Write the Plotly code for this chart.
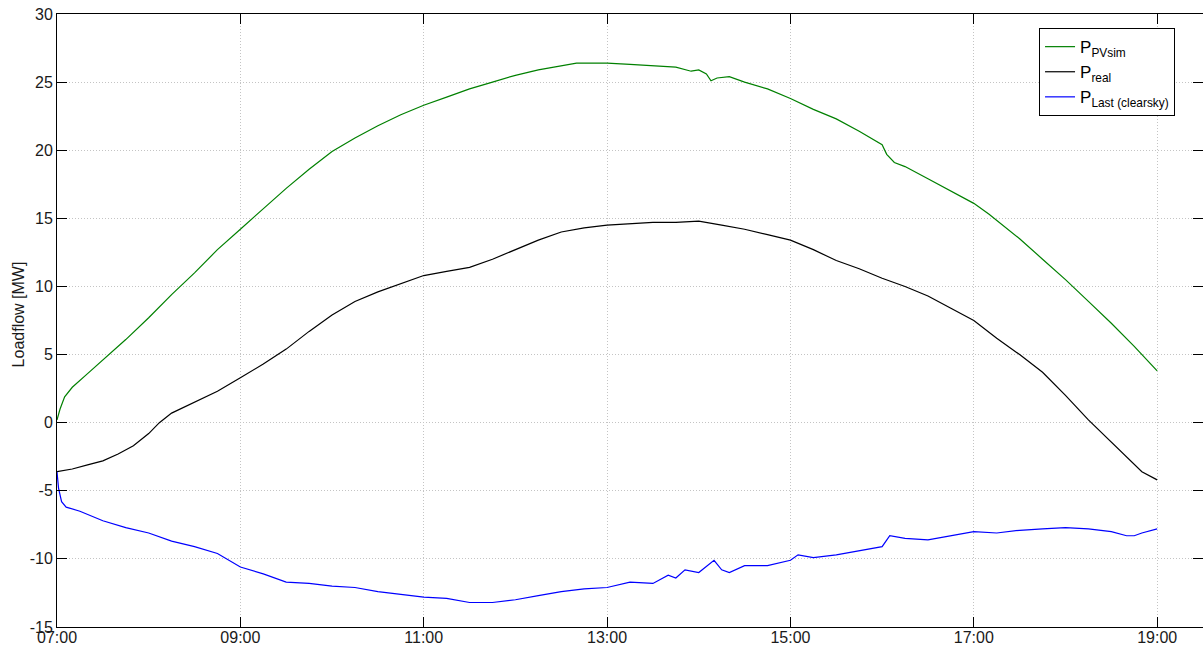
import plotly.graph_objects as go

# ---------------- data ----------------
pv_time = ["07:00", "07:02", "07:05", "07:10", "07:20", "07:30", "07:45", "08:00", "08:15", "08:30",
           "08:45", "09:00", "09:15", "09:30", "09:45", "10:00", "10:15", "10:30", "10:45", "11:00",
           "11:15", "11:30", "11:45", "12:00", "12:15", "12:30", "12:40", "12:50", "13:00", "13:15",
           "13:30", "13:45", "13:55", "14:00", "14:05", "14:08", "14:12", "14:20", "14:30", "14:45",
           "15:00", "15:15", "15:30", "15:45", "16:00", "16:03", "16:08", "16:15", "16:30", "16:45",
           "17:00", "17:10", "17:20", "17:30", "17:45", "18:00", "18:15", "18:30", "18:45", "19:00"]
pv_vals = [0.2, 1.0, 1.9, 2.6, 3.6, 4.6, 6.1, 7.7, 9.4, 11.0,
           12.7, 14.2, 15.7, 17.2, 18.6, 19.9, 20.9, 21.8, 22.6, 23.3,
           23.9, 24.5, 25.0, 25.5, 25.9, 26.2, 26.4, 26.4, 26.4, 26.3,
           26.2, 26.1, 25.8, 25.9, 25.6, 25.1, 25.3, 25.4, 25.0, 24.5,
           23.8, 23.0, 22.3, 21.4, 20.4, 19.7, 19.1, 18.8, 17.9, 17.0,
           16.1, 15.3, 14.4, 13.5, 12.0, 10.5, 8.9, 7.3, 5.6, 3.8]

real_time = ["07:00", "07:10", "07:20", "07:30", "07:40", "07:50", "08:00", "08:07", "08:15", "08:30",
             "08:45", "09:00", "09:15", "09:30", "09:45", "10:00", "10:15", "10:30", "10:45", "11:00",
             "11:15", "11:30", "11:45", "12:00", "12:15", "12:30", "12:45", "13:00", "13:15", "13:30",
             "13:45", "14:00", "14:15", "14:30", "14:45", "15:00", "15:15", "15:30", "15:45", "16:00",
             "16:15", "16:30", "16:45", "17:00", "17:15", "17:30", "17:45", "18:00", "18:15", "18:30",
             "18:45", "18:50", "19:00"]
real_vals = [-3.6, -3.4, -3.1, -2.8, -2.3, -1.7, -0.8, 0.0, 0.7, 1.5,
             2.3, 3.3, 4.3, 5.4, 6.7, 7.9, 8.9, 9.6, 10.2, 10.8,
             11.1, 11.4, 12.0, 12.7, 13.4, 14.0, 14.3, 14.5, 14.6, 14.7,
             14.7, 14.8, 14.5, 14.2, 13.8, 13.4, 12.7, 11.9, 11.3, 10.6,
             10.0, 9.3, 8.4, 7.5, 6.2, 5.0, 3.7, 2.0, 0.2, -1.4,
             -3.0, -3.6, -4.2]

load_time = ["07:00", "07:01", "07:03", "07:06", "07:15", "07:30", "07:45", "08:00", "08:15", "08:30",
             "08:45", "09:00", "09:15", "09:30", "09:45", "10:00", "10:15", "10:30", "10:45", "11:00",
             "11:15", "11:30", "11:45", "12:00", "12:15", "12:30", "12:45", "13:00", "13:15", "13:30",
             "13:40", "13:45", "13:51", "14:00", "14:10", "14:15", "14:20", "14:30", "14:45", "15:00",
             "15:05", "15:15", "15:30", "15:45", "16:00", "16:05", "16:15", "16:30", "16:45", "17:00",
             "17:15", "17:30", "17:45", "18:00", "18:15", "18:30", "18:40", "18:45", "18:50", "19:00"]
load_vals = [-3.6, -4.8, -5.8, -6.2, -6.5, -7.2, -7.7, -8.1, -8.7, -9.1,
             -9.6, -10.6, -11.1, -11.7, -11.8, -12.0, -12.1, -12.4, -12.6, -12.8,
             -12.9, -13.2, -13.2, -13.0, -12.7, -12.4, -12.2, -12.1, -11.7, -11.8,
             -11.2, -11.4, -10.8, -11.0, -10.1, -10.8, -11.0, -10.5, -10.5, -10.1,
             -9.7, -9.9, -9.7, -9.4, -9.1, -8.3, -8.5, -8.6, -8.3, -8.0,
             -8.1, -7.9, -7.8, -7.7, -7.8, -8.0, -8.3, -8.3, -8.1, -7.8]

series_names = ["P<sub>PVsim</sub>", "P<sub>real</sub>", "P<sub>Last (clearsky)</sub>"]
series_colors = ["#008000", "#000000", "#0000ff"]

y_ticks = [-15, -10, -5, 0, 5, 10, 15, 20, 25, 30]
y_ticktext = ["-15", "-10", "-5", "0", "5", "10", "15", "20", "25", "30"]
y_title = "Loadflow [MW]"
day = "2013-06-01 "
x_start, x_end = "07:00", "19:30"


def ts(lst):
    return [day + t for t in lst]


fig = go.Figure()
for t, v, n, c in zip([pv_time, real_time, load_time], [pv_vals, real_vals, load_vals],
                      series_names, series_colors):
    fig.add_trace(go.Scatter(x=ts(t), y=v, mode="lines", name=n,
                             line=dict(color=c, width=1.2)))

# invisible trace on right axis for mirrored inner ticks without a right border line
fig.add_trace(go.Scatter(x=ts([x_start]), y=[0], yaxis="y2", showlegend=False,
                         mode="markers", marker=dict(opacity=0), hoverinfo="skip"))

font_family = "Liberation Sans, Arial, sans-serif"
grid_color = "#c4c4c4"
grid_dash = "1px,2px"
fig.update_layout(
    width=1203, height=648,
    margin=dict(l=57, r=0, t=14, b=21),
    paper_bgcolor="white", plot_bgcolor="white",
    font=dict(family=font_family, size=15, color="#1a1a1a"),
    showlegend=True,
    legend=dict(x=0.9756, y=0.977, xanchor="right", yanchor="top",
                bgcolor="white", bordercolor="black", borderwidth=1,
                font=dict(size=17, color="black"), tracegroupgap=0, itemwidth=30),
    xaxis=dict(type="date", range=[day + x_start, day + x_end],
               dtick=2 * 3600 * 1000, tick0=day + "07:00", tickformat="%H:%M",
               showline=True, linecolor="black", linewidth=1, mirror="ticks",
               ticks="inside", ticklen=10, tickcolor="black",
               showgrid=True, gridcolor=grid_color, griddash=grid_dash, gridwidth=1,
               zeroline=False, automargin=False, tickfont=dict(size=16),
               ticklabelstandoff=-4),
    yaxis=dict(range=[-15, 30], tickvals=y_ticks, ticktext=y_ticktext,
               showline=True, linecolor="black", linewidth=1, mirror=False,
               ticks="inside", ticklen=10, tickcolor="black",
               showgrid=True, gridcolor=grid_color, griddash=grid_dash, gridwidth=1,
               zeroline=False, automargin=False, tickfont=dict(size=16)),
    yaxis2=dict(range=[-15, 30], tickvals=y_ticks, overlaying="y", side="right",
                showline=False, showticklabels=False, showgrid=False, zeroline=False,
                ticks="inside", ticklen=10, tickcolor="black"),
    annotations=[dict(text=y_title, xref="paper", yref="paper", x=-0.034, y=0.51,
                      xanchor="center", yanchor="middle", textangle=-90, showarrow=False,
                      font=dict(size=16, color="#1a1a1a"))],
)

fig.write_html("out.html")
